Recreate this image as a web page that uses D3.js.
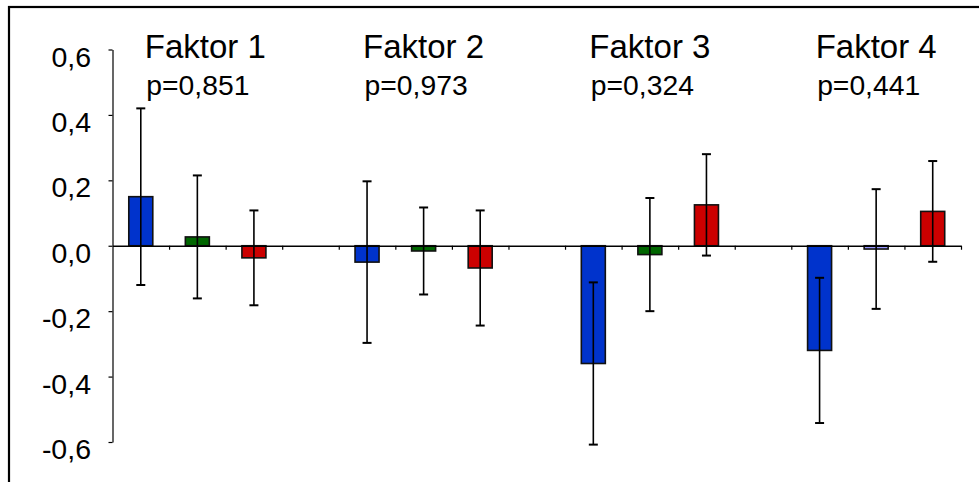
<!DOCTYPE html>
<html>
<head>
<meta charset="utf-8">
<script src="https://cdn.jsdelivr.net/npm/d3@7"></script>
<style>
  html, body { margin: 0; padding: 0; background: #fff; }
  svg { display: block; }
  text { font-family: "Liberation Sans", Arial, sans-serif; fill: #000; }
</style>
</head>
<body>
<svg id="chart" width="979" height="482"></svg>
<script>
// ---- data ----
const factors = ["Faktor 1", "Faktor 2", "Faktor 3", "Faktor 4"];
const pLabels = ["p=0,851", "p=0,973", "p=0,324", "p=0,441"];
const seriesA = [0.150, -0.050, -0.360, -0.320];   // blue
const seriesB = [0.027, -0.016, -0.027, -0.010];   // green / light purple
const seriesC = [-0.037, -0.068, 0.125, 0.105];    // red
const errA = [0.270, 0.247, 0.248, 0.222];
const errB = [0.188, 0.133, 0.173, 0.183];
const errC = [0.145, 0.176, 0.155, 0.154];
const yTickValues = [-0.6, -0.4, -0.2, 0.0, 0.2, 0.4, 0.6];
const yTickLabels = ["-0,6", "-0,4", "-0,2", "0,0", "0,2", "0,4", "0,6"];

// ---- styles / layout ----
const seriesColors = ["#0033CC", "#006600", "#CC0000"];
const specialColor = { factor: 3, series: 1, color: "#9999FF" };
const firstTitleShift = 8;

const svg = d3.select("#chart");
const plotLeft = 112.5, plotRight = 961, plotTop = 49.5, plotBottom = 442;
const nSlots = 15;

// frame
svg.append("rect").attr("x", 9).attr("y", 7).attr("width", 1000).attr("height", 500)
  .attr("fill", "none").attr("stroke", "#000").attr("stroke-width", 2.2);

const y = d3.scaleLinear().domain([-0.6, 0.6]).range([plotBottom, plotTop]);
const slots = d3.range(nSlots);
const x = d3.scaleBand().domain(slots).range([plotLeft, plotRight]).padding(0);
const xb = d3.scaleLinear().domain([0, nSlots]).range([plotLeft, plotRight]);

// build bar table
const seriesVals = [seriesA, seriesB, seriesC];
const seriesErr = [errA, errB, errC];
const bars = [];
factors.forEach((f, fi) => {
  seriesVals.forEach((vals, si) => {
    let color = seriesColors[si];
    if (fi === specialColor.factor && si === specialColor.series) color = specialColor.color;
    bars.push({ slot: fi * 4 + si, value: vals[fi], err: seriesErr[si][fi], color });
  });
});

// y axis
const yAxis = d3.axisLeft(y).tickValues(yTickValues).tickSize(4).tickSizeOuter(0).tickFormat("");
const gy = svg.append("g").attr("transform", `translate(${plotLeft},0)`).call(yAxis);
gy.select(".domain").attr("stroke", "#000").attr("stroke-width", 1.2);
gy.selectAll(".tick line").attr("stroke", "#000").attr("stroke-width", 1.2);

// y tick labels
svg.append("g").selectAll("text").data(yTickValues).join("text")
  .attr("x", 91)
  .attr("y", d => y(d) + 17)
  .attr("text-anchor", "end")
  .attr("font-size", 28.5)
  .text((d, i) => yTickLabels[i]);

// bars
const bw = 24;
svg.append("g").selectAll("rect").data(bars).join("rect")
  .attr("x", d => x(d.slot) + x.bandwidth() / 2 - bw / 2)
  .attr("width", bw)
  .attr("y", d => y(Math.max(0, d.value)))
  .attr("height", d => Math.abs(y(d.value) - y(0)))
  .attr("fill", d => d.color)
  .attr("stroke", "#111").attr("stroke-width", 1.6);

// x axis
const xAxis = d3.axisBottom(xb).tickValues(d3.range(1, nSlots + 1)).tickSize(4).tickSizeOuter(0).tickFormat("");
const gx = svg.append("g").attr("transform", `translate(0,${y(0)})`).call(xAxis);
gx.select(".domain").attr("stroke", "#000").attr("stroke-width", 1.4);
gx.selectAll(".tick line").attr("stroke", "#000").attr("stroke-width", 1.2);

// error bars
const capW = 9;
const cxOf = d => x(d.slot) + x.bandwidth() / 2;
const eb = svg.append("g").selectAll("g").data(bars).join("g");
eb.append("line")
  .attr("x1", cxOf).attr("x2", cxOf)
  .attr("y1", d => y(d.value - d.err)).attr("y2", d => y(d.value + d.err))
  .attr("stroke", "#000").attr("stroke-width", 1.6);
eb.append("line")
  .attr("x1", d => cxOf(d) - capW / 2).attr("x2", d => cxOf(d) + capW / 2)
  .attr("y1", d => y(d.value + d.err)).attr("y2", d => y(d.value + d.err))
  .attr("stroke", "#000").attr("stroke-width", 2);
eb.append("line")
  .attr("x1", d => cxOf(d) - capW / 2).attr("x2", d => cxOf(d) + capW / 2)
  .attr("y1", d => y(d.value - d.err)).attr("y2", d => y(d.value - d.err))
  .attr("stroke", "#000").attr("stroke-width", 2);

// factor titles and p-values
factors.forEach((f, fi) => {
  const cx = x(fi * 4 + 1) + x.bandwidth() / 2 + (fi === 0 ? firstTitleShift : 0);
  const t = svg.append("text")
    .attr("x", cx).attr("y", 58)
    .attr("text-anchor", "middle")
    .attr("font-size", 33)
    .text(f);
  const w = t.node().getComputedTextLength();
  svg.append("text")
    .attr("x", cx - w / 2 + 1.5).attr("y", 95)
    .attr("text-anchor", "start")
    .attr("font-size", 28.3)
    .text(pLabels[fi]);
});
</script>
</body>
</html>
